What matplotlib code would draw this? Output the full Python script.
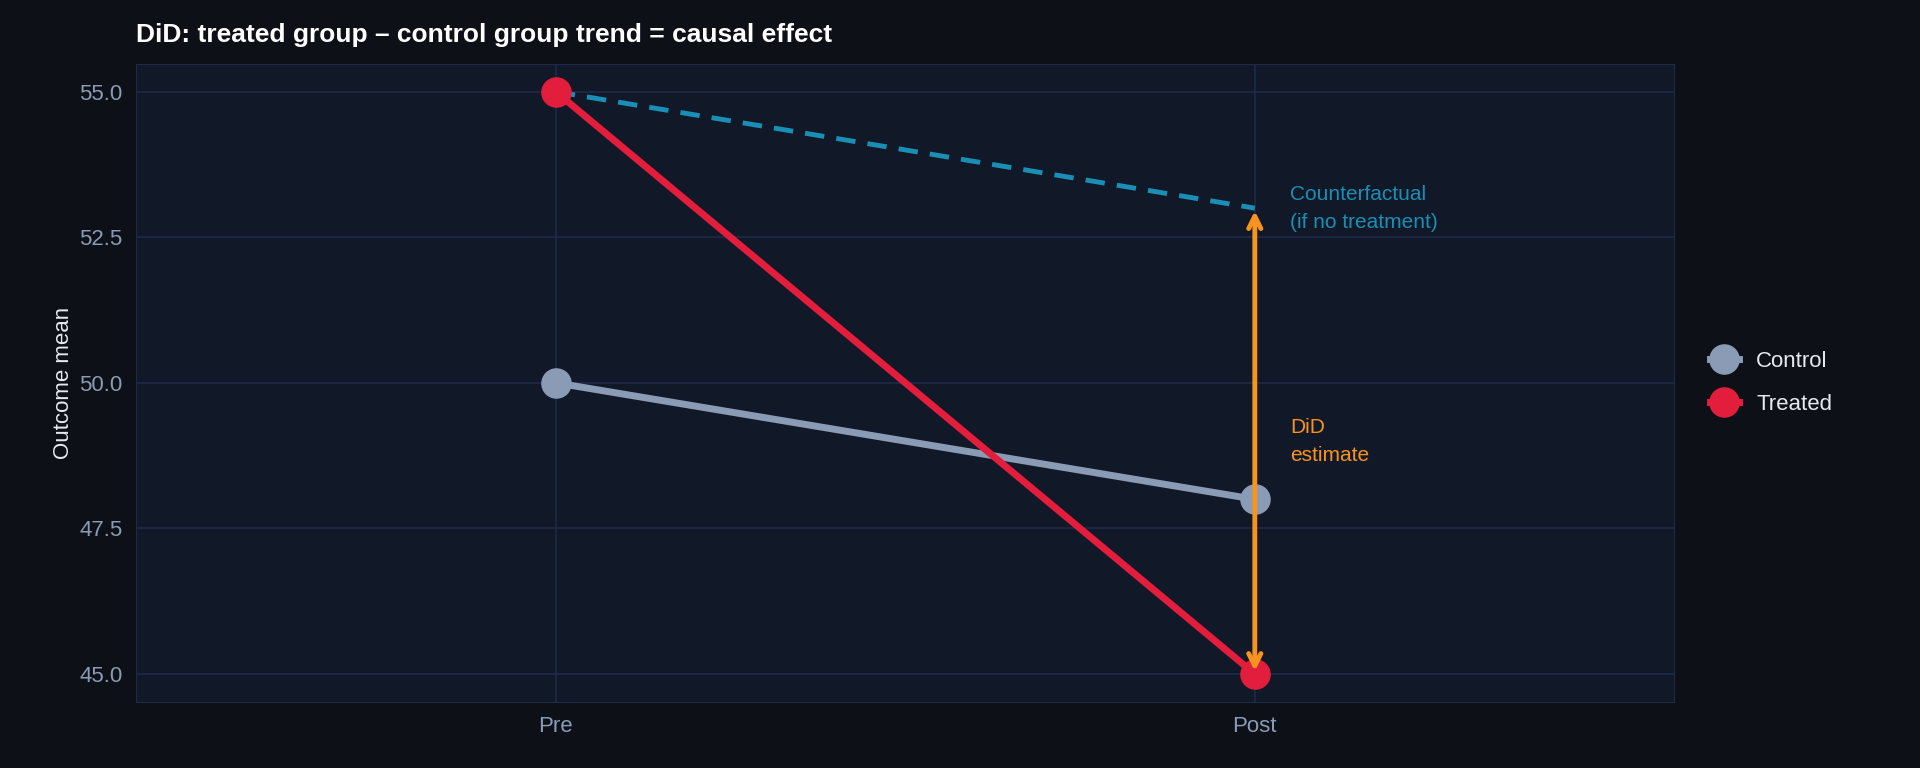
import matplotlib
matplotlib.use("Agg")
import matplotlib.pyplot as plt
plt.rcParams["font.family"] = ["Liberation Sans", "DejaVu Sans"]

periods = ["Pre", "Post"]
control = [50.0, 48.0]
treated = [55.0, 45.0]
counterfactual = [55.0, 53.0]

BG = "#0d1117"; PANEL = "#111827"; GRID = "#1e2a4a"
C_CTRL = "#8a9bb5"; C_TRT = "#e31d3c"; C_CF = "#1a8fb5"; C_ARR = "#f7931e"

fig = plt.figure(figsize=(19.2, 7.68), dpi=100, facecolor=BG)
ax = fig.add_axes([0.071, 0.086, 0.801, 0.831], facecolor=PANEL)
x = [1, 2]
ax.plot(x, counterfactual, color=C_CF, lw=3.5, ls=(0, (4, 2.5)), zorder=2)
ax.plot(x, control, color=C_CTRL, lw=5, marker="o", ms=21, label="Control", zorder=3)
ax.plot(x, treated, color=C_TRT, lw=5, marker="o", ms=21, label="Treated", zorder=3)
ax.annotate("", xy=(2, treated[1]), xytext=(2, counterfactual[1]),
            arrowprops=dict(arrowstyle="<->", color=C_ARR, lw=3.5, mutation_scale=22), zorder=4)
ax.text(2.05, 53.0, "Counterfactual\n(if no treatment)", color=C_CF, fontsize=15,
        va="center", ha="left", linespacing=1.6)
ax.text(2.05, 49.0, "DiD\nestimate", color=C_ARR, fontsize=15,
        va="center", ha="left", linespacing=1.6)

ax.set_xlim(0.4, 2.6)
ax.set_ylim(44.52, 55.48)
ax.set_xticks(x); ax.set_xticklabels(periods)
ax.set_yticks([45, 47.5, 50, 52.5, 55])
ax.set_yticklabels(["45.0", "47.5", "50.0", "52.5", "55.0"])
ax.grid(True, color=GRID, lw=1.2)
ax.set_axisbelow(True)
for s in ax.spines.values():
    s.set_color(GRID)
ax.tick_params(colors=C_CTRL, labelsize=16, length=0, pad=10)
ax.set_ylabel("Outcome mean", color="#e6e9ef", fontsize=16)
fig.text(0.071, 0.955, "DiD: treated group \u2013 control group trend = causal effect",
         color="white", fontsize=19, fontweight="bold", va="center")
leg = ax.legend(loc="center left", bbox_to_anchor=(1.01, 0.5), frameon=False,
                fontsize=16, labelcolor="#e6e9ef", handlelength=1.3, labelspacing=1.0)
fig.savefig("out.png", facecolor=BG)
